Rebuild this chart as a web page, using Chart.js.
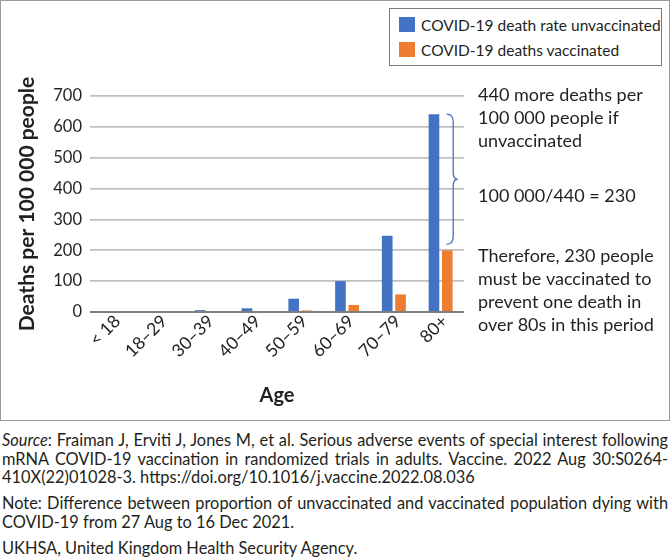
<!DOCTYPE html>
<html>
<head>
<meta charset="utf-8">
<script src="https://cdn.jsdelivr.net/npm/chart.js@4.4.0/dist/chart.umd.min.js"></script>
<style>
body{margin:0;background:#fff;font-family:Lato,"Open Sans",sans-serif;color:#231f20;}
#frame{position:absolute;left:0;top:0;width:670px;height:421px;border:1.5px solid #9a9a9a;box-sizing:border-box;}
#wrap{position:absolute;left:0;top:0;width:670px;height:420px;}
#legend{position:absolute;left:389px;top:8px;width:273px;height:58px;border:1.5px solid #7a7a7a;box-sizing:border-box;background:#fff;}
.li{position:absolute;left:9px;height:18px;font-size:15.5px;line-height:18px;white-space:nowrap;}
.li span{display:inline-block;width:16px;height:15px;vertical-align:top;margin:1px 6px 0 0;}
#foot{position:absolute;left:2px;top:431px;width:666px;font-size:16.4px;}
.fl{white-space:nowrap;height:18.5px;line-height:18.5px;}
.j{text-align:justify;text-align-last:justify;}
.gap{margin-top:7.5px;}
</style>
</head>
<body>
<div id="frame"></div>
<div id="wrap"><canvas id="c" width="670" height="420"></canvas></div>
<div id="legend"></div>
<div id="foot">
<div class="fl j"><span><i>Source</i>: Fraiman J, Erviti J, Jones M, et al. Serious adverse events of special interest following</span></div>
<div class="fl j"><span>mRNA COVID-19 vaccination in randomized trials in adults. Vaccine. 2022 Aug 30:S0264-</span></div>
<div class="fl"><span>410X(22)01028-3. https://doi.org/10.1016/j.vaccine.2022.08.036</span></div>
<div class="fl j gap"><span>Note: Difference between proportion of unvaccinated and vaccinated population dying with</span></div>
<div class="fl"><span>COVID-19 from 27 Aug to 16 Dec 2021.</span></div>
<div class="fl gap"><span>UKHSA, United Kingdom Health Security Agency.</span></div>
</div>
<script>
const ageGroups = ["< 18","18–29","30–39","40–49","50–59","60–69","70–79","80+"];
const unvaccinated = [0,0,6,12,43,100,247,641];
const vaccinated = [0,0,0,0,5,23,57,200];
const seriesNames = ["COVID-19 death rate unvaccinated","COVID-19 deaths vaccinated"];
const seriesColors = ["#4472c4","#ed7d31"];
const notes = [
  ["440 more deaths per","100 000 people if","unvaccinated"],
  ["100 000/440 = 230"],
  ["Therefore, 230 people","must be vaccinated to","prevent one death in","over 80s in this period"]
];

const FONT = "Lato";

// footer lines that are too long for the box get shrunk a little
document.querySelectorAll("#foot .fl").forEach(l=>{
  const s = l.firstElementChild;
  const w = s.getBoundingClientRect().width;
  if(w > 664){
    l.style.fontSize = (16.4*664/w).toFixed(2)+"px";
  }
});

// legend
const leg = document.getElementById("legend");
seriesNames.forEach((n,i)=>{
  const d = document.createElement("div");
  d.className = "li";
  d.style.top = (i===0 ? 7 : 32)+"px";
  d.innerHTML = '<span style="background:'+seriesColors[i]+'"></span>'+n;
  leg.appendChild(d);
});

const notesPlugin = {
  id:"notes",
  afterDatasetsDraw(chart){
    const ctx = chart.ctx, y = chart.scales.y, x = chart.scales.x;
    const ca = chart.chartArea;
    // brace from unvaccinated 80+ down to just above the vaccinated bar
    const top = y.getPixelForValue(unvaccinated[7]);
    const bot = y.getPixelForValue(vaccinated[7]) - 6;
    const bx = x.getPixelForValue(7) + 6;
    const mid = (top+bot)/2;
    const w = 11;
    ctx.save();
    ctx.strokeStyle = "#4472c4";
    ctx.lineWidth = 1.3;
    ctx.beginPath();
    ctx.moveTo(bx, top);
    ctx.quadraticCurveTo(bx+w*0.6, top, bx+w*0.6, top+8);
    ctx.lineTo(bx+w*0.6, mid-7);
    ctx.quadraticCurveTo(bx+w*0.6, mid, bx+w, mid);
    ctx.quadraticCurveTo(bx+w*0.6, mid, bx+w*0.6, mid+7);
    ctx.lineTo(bx+w*0.6, bot-8);
    ctx.quadraticCurveTo(bx+w*0.6, bot, bx, bot);
    ctx.stroke();
    // text
    ctx.fillStyle = "#231f20";
    ctx.font = "18px " + FONT;
    ctx.textBaseline = "middle";
    ctx.textAlign = "left";
    const tx = ca.right + 14;
    const starts = [95, 196, 256];
    notes.forEach((grp,g)=>{
      grp.forEach((line,k)=>ctx.fillText(line, tx, starts[g] + k*23));
    });
    ctx.restore();
  }
};

new Chart(document.getElementById("c"),{
  type:"bar",
  data:{
    labels:ageGroups,
    datasets:[
      {label:seriesNames[0],data:unvaccinated,backgroundColor:seriesColors[0],barPercentage:0.8,categoryPercentage:0.57},
      {label:seriesNames[1],data:vaccinated,backgroundColor:seriesColors[1],barPercentage:0.8,categoryPercentage:0.57}
    ]
  },
  options:{
    responsive:false,
    animation:false,
    layout:{padding:{top:96,right:206,bottom:0,left:0}},
    plugins:{legend:{display:false},tooltip:{enabled:false}},
    scales:{
      x:{
        afterFit(s){s.height=108;},
        grid:{display:false},
        border:{display:false},
        ticks:{color:"#231f20",font:{family:FONT,size:17.5},minRotation:45,maxRotation:45,padding:-9,labelOffset:4},
        title:{display:true,text:"Age",color:"#231f20",font:{family:FONT,size:20,weight:"bold"},padding:{top:0,bottom:12}}
      },
      y:{
        min:0,max:700,
        afterFit(s){s.width=90;},
        afterBuildTicks(s){s.ticks=[0,100,200,300,400,500,600,700].map(v=>({value:v}));},
        grid:{color:c=>c.tick && c.tick.value===0 ? "#7f7f7f" : "#c0c0c0",lineWidth:c=>c.tick && c.tick.value===0 ? 2 : 1.8,drawTicks:false},
        border:{display:false},
        ticks:{color:"#231f20",font:{family:FONT,size:16.5},padding:8},
        title:{display:true,text:"Deaths per 100 000 people",color:"#231f20",font:{family:FONT,size:21,weight:"bold"},padding:{top:15,bottom:0}}
      }
    }
  },
  plugins:[notesPlugin]
});
</script>
</body>
</html>
